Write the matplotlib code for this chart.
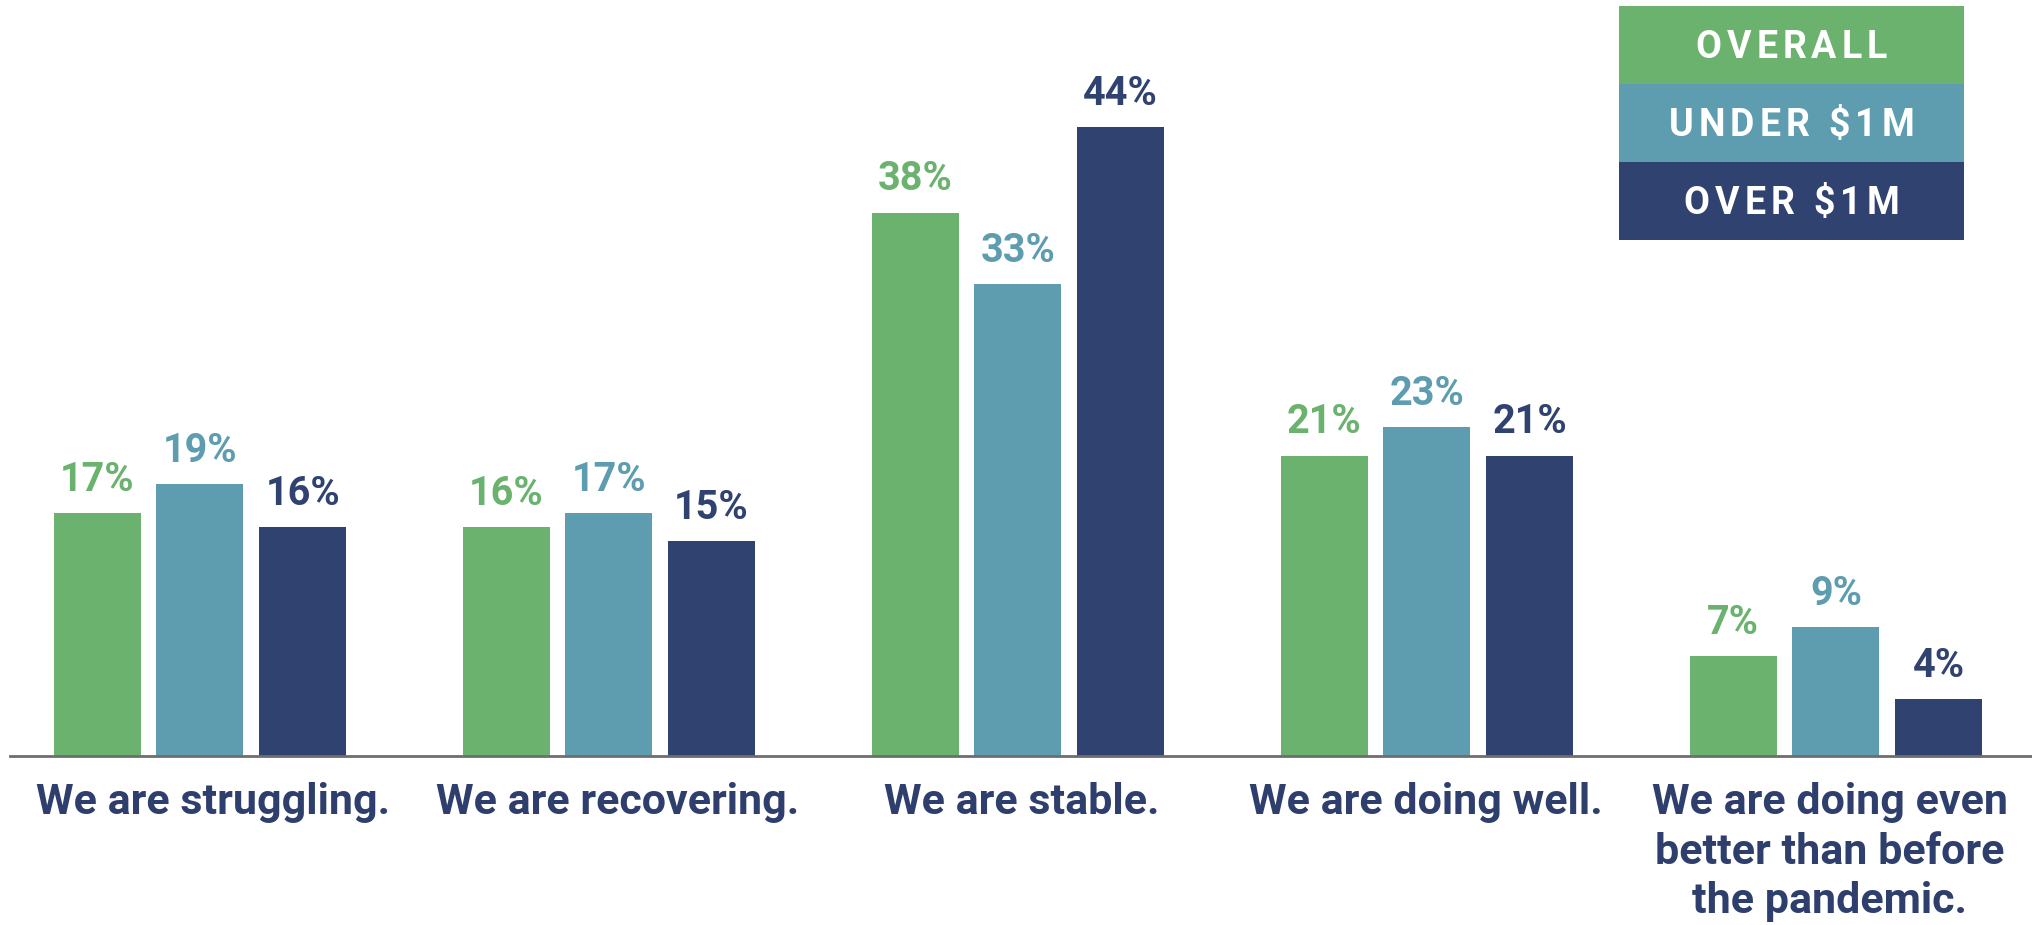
import matplotlib
matplotlib.use('Agg')
import matplotlib.pyplot as plt
from matplotlib.patches import Rectangle
import numpy as np

plt.rcParams['font.family'] = ['Roboto', 'DejaVu Sans']

categories = ['We are struggling.', 'We are recovering.', 'We are stable.',
              'We are doing well.', 'We are doing even\nbetter than before\nthe pandemic.']
series_names = ['OVERALL', 'UNDER $1M', 'OVER $1M']
overall = [17, 16, 38, 21, 7]
under_1m = [19, 17, 33, 23, 9]
over_1m = [16, 15, 44, 21, 4]

colors = ['#6BB26F', '#5E9DB0', '#30426F']
text_navy = '#2E3F6E'

fig = plt.figure(figsize=(20.33, 9.25), dpi=100)
ax = fig.add_axes([0, 0.1827, 1, 0.7730])

x = np.arange(len(categories))
width = 0.2127
step = 0.251

for k, vals in enumerate([overall, under_1m, over_1m]):
    pos = x + (k - 1) * step
    ax.bar(pos, vals, width, color=colors[k], zorder=2)
    for p, v in zip(pos, vals):
        ax.annotate(f'{v}%', (p, v), xytext=(0, 16), textcoords='offset points',
                    ha='center', va='baseline', fontsize=28.5, fontweight='bold',
                    color=colors[k])

ax.set_xlim(-0.489, 4.482)
ax.set_ylim(0, 50)

for s in ['top', 'right', 'left']:
    ax.spines[s].set_visible(False)
ax.spines['bottom'].set_color('#6E6E6E')
ax.spines['bottom'].set_linewidth(2)
ax.spines['bottom'].set_bounds(-0.465, 4.482)
ax.set_yticks([])
ax.set_xticks([])

# category names under the axis, one line at a time
label_x = 0.033 + 0.988 * x
for lx, cat in zip(label_x, categories):
    for i, line in enumerate(cat.split('\n')):
        ax.annotate(line, (lx, 0), xytext=(0, -58 - 49.5 * i),
                    textcoords='offset pixels', ha='center', va='baseline',
                    fontsize=31, fontweight='bold', color=text_navy,
                    annotation_clip=False)

# legend block in the upper right corner (pixel coordinates, letter-spaced text)
renderer = fig.canvas.get_renderer()
leg_x, leg_w, leg_h, leg_top = 1619, 345, 78, 925 - 6
fs = 27
track = 5
cap = fs * 100 / 72 * 0.711


def text_width(s):
    t = fig.text(0, 0, s, fontsize=fs, fontweight='bold', transform=None)
    w = t.get_window_extent(renderer).width
    t.remove()
    return w


bar_w = text_width('|')
for k, name in enumerate(series_names):
    y0 = leg_top - (k + 1) * leg_h
    fig.patches.append(Rectangle((leg_x, y0), leg_w, leg_h, transform=None,
                                 facecolor=colors[k], edgecolor='none'))
    total = text_width(name) + track * (len(name) - 1)
    start = leg_x + leg_w / 2 - total / 2
    base = y0 + leg_h / 2 - cap / 2
    for i, ch in enumerate(name):
        offset = text_width(name[:i] + '|') - bar_w if i else 0
        fig.text(start + offset + i * track, base, ch, ha='left', va='baseline',
                 fontsize=fs, fontweight='bold', color='white', transform=None)

fig.savefig('out.png', dpi=100)
